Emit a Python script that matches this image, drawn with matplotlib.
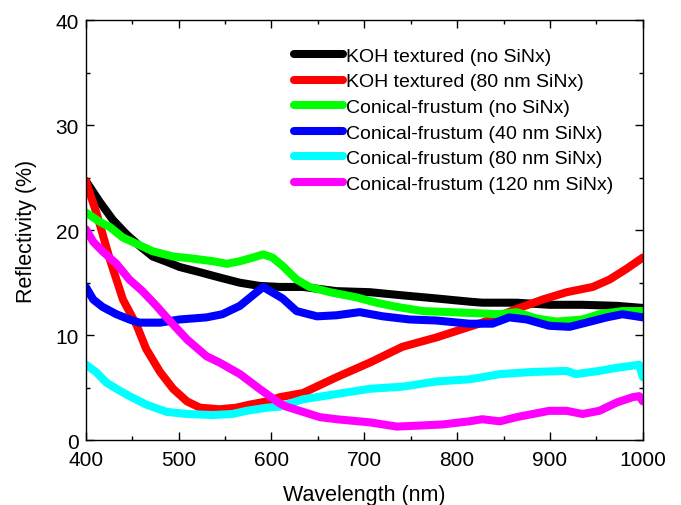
import matplotlib
matplotlib.use("Agg")
import matplotlib.pyplot as plt
from matplotlib.ticker import MultipleLocator

plt.rcParams['font.family'] = ['Liberation Sans', 'DejaVu Sans']

labels = ["KOH textured (no SiNx)", "KOH textured (80 nm SiNx)", "Conical-frustum (no SiNx)",
          "Conical-frustum (40 nm SiNx)", "Conical-frustum (80 nm SiNx)", "Conical-frustum (120 nm SiNx)"]
colors = ["#000000", "#ff0000", "#00ff00", "#0000ff", "#00ffff", "#ff00ff"]

koh_no_x = [400, 415, 429, 444, 458, 472, 487, 501, 523, 544, 566, 587, 609, 634, 670, 706, 741, 778,
            813, 827, 864, 899, 935, 972, 1000]
koh_no_y = [24.7, 22.7, 21.0, 19.6, 18.5, 17.5, 17.0, 16.5, 16.0, 15.5, 15.0, 14.7, 14.6, 14.6, 14.2, 14.1,
            13.8, 13.5, 13.2, 13.1, 13.1, 12.9, 12.9, 12.8, 12.6]

koh_80_x = [400, 412, 426, 440, 455, 465, 480, 494, 509, 523, 544, 562, 577, 595, 609, 634, 670, 706,
            741, 778, 806, 827, 864, 892, 918, 946, 964, 982, 1000]
koh_80_y = [24.7, 21.5, 17.2, 13.4, 10.9, 8.7, 6.5, 4.9, 3.7, 3.1, 2.95, 3.1, 3.4, 3.7, 4.1, 4.5, 6.0, 7.4,
            8.9, 9.8, 10.6, 11.2, 12.5, 13.4, 14.1, 14.6, 15.3, 16.3, 17.4]

cf_no_x = [400, 415, 426, 440, 455, 472, 494, 515, 537, 552, 566, 580, 591, 601, 612, 627, 641, 663,
           692, 713, 735, 763, 792, 821, 846, 864, 885, 907, 935, 953, 978, 1000]
cf_no_y = [21.7, 20.8, 20.3, 19.3, 18.7, 18.0, 17.5, 17.3, 17.05, 16.8, 17.05, 17.4, 17.7, 17.4, 16.6, 15.3,
           14.6, 14.1, 13.6, 13.1, 12.7, 12.3, 12.2, 12.1, 12.0, 12.2, 11.6, 11.3, 11.5, 12.0, 12.3, 12.3]

cf_40_x = [400, 408, 418, 433, 447, 458, 480, 501, 530, 547, 566, 577, 591, 612, 627, 649, 670, 695,
           720, 749, 778, 813, 838, 856, 875, 899, 921, 939, 961, 978, 993, 1000]
cf_40_y = [14.6, 13.4, 12.7, 12.0, 11.5, 11.2, 11.2, 11.5, 11.7, 12.0, 12.8, 13.6, 14.6, 13.5, 12.3, 11.8,
           11.9, 12.2, 11.8, 11.5, 11.4, 11.1, 11.1, 11.7, 11.5, 10.9, 10.8, 11.2, 11.7, 12.0, 11.8, 11.7]

cf_80_x = [400, 411, 422, 433, 447, 465, 487, 509, 537, 558, 573, 595, 609, 634, 670, 706, 741, 778,
           813, 827, 846, 881, 918, 928, 953, 972, 989, 996, 1000]
cf_80_y = [7.2, 6.5, 5.5, 4.9, 4.2, 3.4, 2.7, 2.5, 2.4, 2.5, 2.8, 3.1, 3.2, 3.9, 4.4, 4.9, 5.1, 5.6,
           5.8, 6.0, 6.3, 6.5, 6.6, 6.3, 6.6, 6.9, 7.1, 7.2, 6.0]

cf_120_x = [400, 408, 418, 433, 447, 461, 476, 487, 509, 530, 544, 566, 587, 609, 616, 634, 652, 670,
            706, 735, 760, 784, 813, 827, 846, 864, 899, 918, 935, 953, 972, 989, 996, 1000]
cf_120_y = [20.1, 18.9, 18.0, 16.8, 15.3, 14.2, 12.8, 11.7, 9.6, 8.0, 7.4, 6.3, 4.9, 3.5, 3.2, 2.7, 2.2, 2.0,
            1.7, 1.3, 1.4, 1.5, 1.8, 2.0, 1.8, 2.2, 2.8, 2.8, 2.5, 2.8, 3.6, 4.1, 4.2, 3.7]

series = [(koh_no_x, koh_no_y), (koh_80_x, koh_80_y), (cf_no_x, cf_no_y),
          (cf_40_x, cf_40_y), (cf_80_x, cf_80_y), (cf_120_x, cf_120_y)]

fig = plt.figure(figsize=(6.81, 5.06), dpi=100)
ax = fig.add_axes([0.126, 0.128, 0.818, 0.830])

for (x, y), c, lab in zip(series, colors, labels):
    ax.plot(x, y, color=c, lw=5.8, solid_capstyle='round', solid_joinstyle='round', label=lab)

ax.set_xlim(400, 1000)
ax.set_ylim(0, 40)
ax.xaxis.set_major_locator(MultipleLocator(100))
ax.xaxis.set_minor_locator(MultipleLocator(50))
ax.yaxis.set_major_locator(MultipleLocator(10))
ax.yaxis.set_minor_locator(MultipleLocator(5))
ax.tick_params(which='both', direction='in', top=True, right=True, width=1.0, labelsize=15)
ax.tick_params(which='major', length=6)
ax.tick_params(which='minor', length=3)
ax.tick_params(axis='x', which='major', pad=7)
ax.tick_params(axis='y', which='major', pad=5)
for s in ax.spines.values():
    s.set_linewidth(1.0)

ax.set_xlabel("Wavelength (nm)", fontsize=15.5, labelpad=11)
ax.set_ylabel("Reflectivity (%)", fontsize=15.5, labelpad=13)

leg = ax.legend(loc='upper left', bbox_to_anchor=(0.35, 0.968), frameon=False, fontsize=14,
                handlelength=2.5, handletextpad=0.15, labelspacing=0.41, borderpad=0.2)

fig.savefig("out.png", dpi=100)
